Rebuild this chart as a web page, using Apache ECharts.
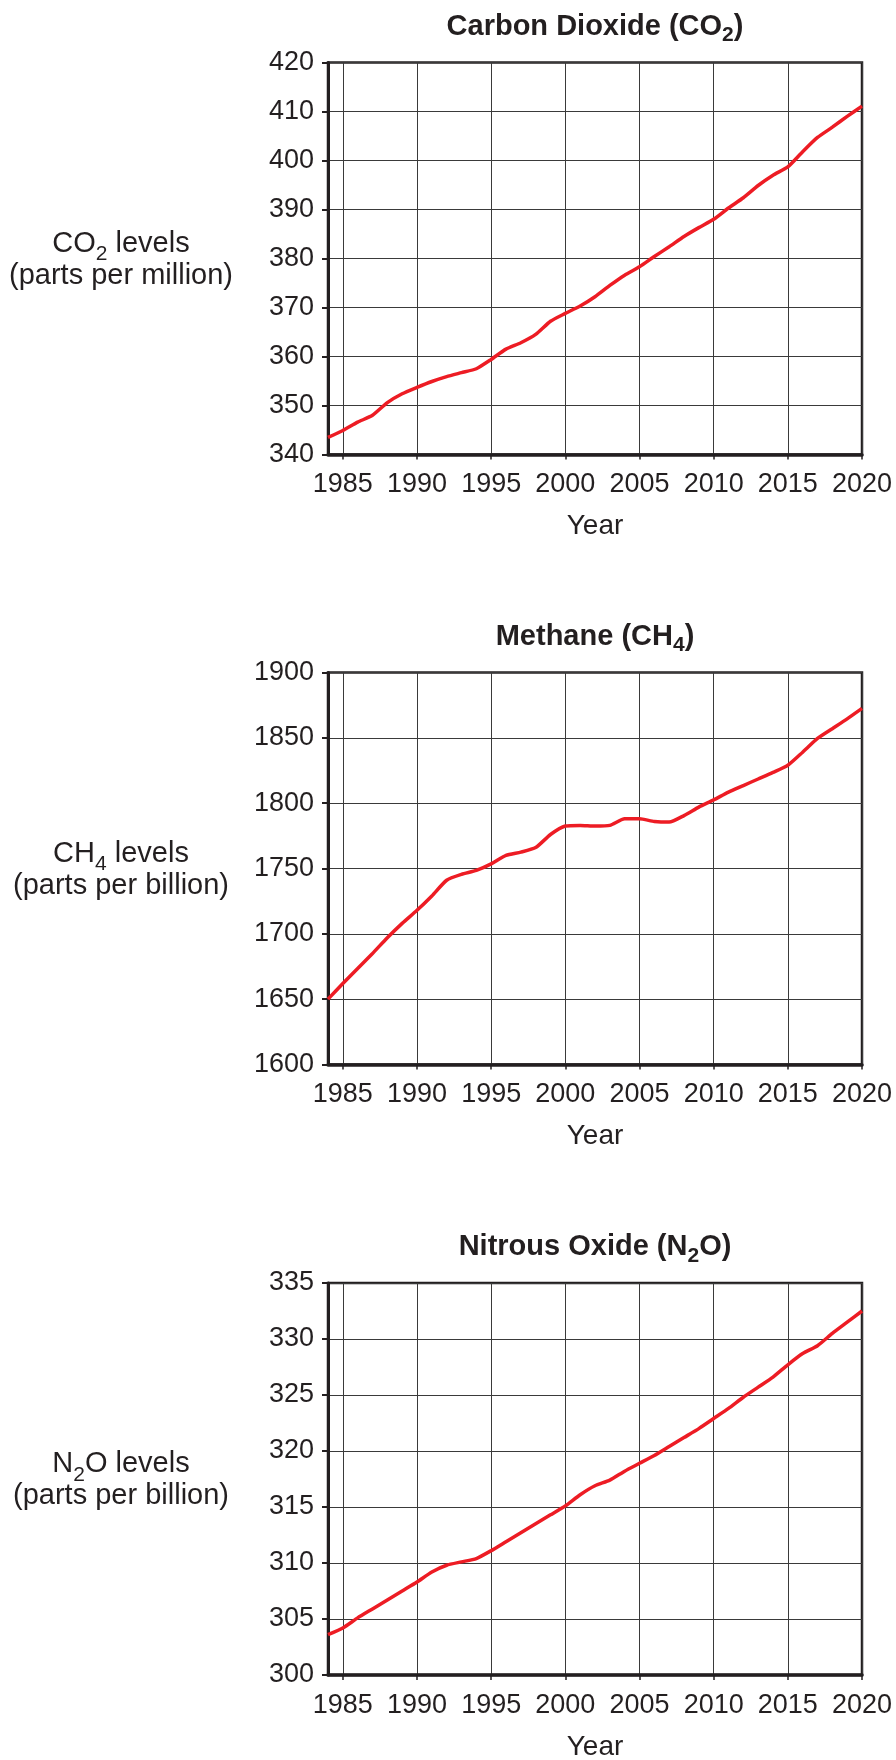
<!DOCTYPE html>
<html>
<head>
<meta charset="utf-8">
<script src="https://cdn.jsdelivr.net/npm/echarts@6/dist/echarts.min.js"></script>
<style>
html,body{margin:0;padding:0;background:#fff;}
#main{width:896px;height:1760px;}
</style>
</head>
<body>
<div id="main"></div>
<script>
const years = [1984,1985,1986,1987,1988,1989,1990,1991,1992,1993,1994,1995,1996,1997,1998,1999,2000,2001,2002,2003,2004,2005,2006,2007,2008,2009,2010,2011,2012,2013,2014,2015,2016,2017,2018,2019,2020];
const xTickYears = [1985,1990,1995,2000,2005,2010,2015,2020];

const co2Values = [343.5,344.9,346.6,348.0,350.6,352.4,353.7,354.9,355.9,356.7,357.5,359.4,361.5,362.8,364.5,367.2,368.8,370.3,372.2,374.5,376.6,378.3,380.4,382.4,384.5,386.3,388.0,390.3,392.4,394.9,397.0,398.7,401.8,404.7,406.8,409.0,411.1];
const ch4Values = [1650,1662,1673.5,1685,1697,1708,1718,1729,1741,1745.5,1748.5,1753.5,1760,1762.5,1766,1776,1782.5,1783,1782.5,1783,1788,1788,1786,1785.5,1790.5,1797,1802.5,1808.5,1813.5,1818.5,1823.5,1829,1839,1849.5,1857,1864.5,1872.5];
const n2oValues = [303.6,304.2,305.1,305.9,306.7,307.5,308.3,309.2,309.8,310.1,310.4,311.1,311.9,312.7,313.5,314.3,315.1,316.1,316.9,317.4,318.2,318.9,319.6,320.4,321.2,322.0,322.9,323.8,324.8,325.7,326.6,327.7,328.7,329.4,330.5,331.5,332.5];

const panels = [
  {title: 'Carbon Dioxide (CO{sb|2})', name1: 'CO{s|2} levels', name2: '(parts per million)', values: co2Values, yMin: 340, yMax: 420, yStep: 10, top: 62.5},
  {title: 'Methane (CH{sb|4})', name1: 'CH{s|4} levels', name2: '(parts per billion)', values: ch4Values, yMin: 1600, yMax: 1900, yStep: 50, top: 672.5},
  {title: 'Nitrous Oxide (N{sb|2}O)', name1: 'N{s|2}O levels', name2: '(parts per billion)', values: n2oValues, yMin: 300, yMax: 335, yStep: 5, top: 1283}
];

const FONT = "'Liberation Sans', Arial, Helvetica, sans-serif";
const TXT = '#231f20';
const PLOT_LEFT = 328, PLOT_W = 534, PLOT_H = 392;

const chart = echarts.init(document.getElementById('main'), null, {renderer: 'canvas'});

const grid = [], xAxis = [], yAxis = [], series = [], graphic = [];
panels.forEach((p, i) => {
  grid.push({left: PLOT_LEFT, top: p.top, width: PLOT_W, height: PLOT_H, show: true, borderColor: '#231f20', borderWidth: 2.5, backgroundColor: 'transparent'});
  xAxis.push({
    type: 'value', gridIndex: i, min: 1984, max: 2020,
    axisLine: {show: true, onZero: false, lineStyle: {color: '#231f20', width: 3.5}},
    axisTick: {show: true, length: 5, customValues: xTickYears, lineStyle: {color: '#231f20', width: 1.5}},
    axisLabel: {customValues: xTickYears, color: TXT, fontSize: 27, fontFamily: FONT, margin: 17, formatter: v => String(v)},
    splitLine: {show: true, lineStyle: {color: '#3a3a3a', width: 1}}
  });
  yAxis.push({
    type: 'value', gridIndex: i, min: p.yMin, max: p.yMax, interval: p.yStep,
    axisLine: {show: true, onZero: false, lineStyle: {color: '#231f20', width: 3}},
    axisTick: {show: true, length: 6, lineStyle: {color: '#231f20', width: 2}},
    axisLabel: {color: TXT, fontSize: 27, fontFamily: FONT, margin: 14, formatter: v => String(v)},
    splitLine: {show: true, lineStyle: {color: '#3a3a3a', width: 1}}
  });
  series.push({
    type: 'line', xAxisIndex: i, yAxisIndex: i,
    data: years.map((y, k) => [y, p.values[k]]),
    showSymbol: false, symbol: 'none', smooth: 0.2,
    lineStyle: {color: '#ed1c24', width: 3.5},
    z: 5
  });
  const cx = PLOT_LEFT + PLOT_W / 2;
  const cy = p.top + PLOT_H / 2;
  graphic.push({
    type: 'text', x: cx, y: p.top - 36,
    style: {
      text: p.title, fontSize: 29, fontWeight: 'bold', fontFamily: FONT, fill: TXT,
      align: 'center', verticalAlign: 'middle',
      rich: {sb: {fontSize: 21, fontWeight: 'bold', fontFamily: FONT, fill: TXT, padding: [18, 0, 0, 0]}}
    }
  });
  graphic.push({
    type: 'text', x: 121, y: cy - 15,
    style: {
      text: p.name1, fontSize: 29, fontFamily: FONT, fill: TXT,
      align: 'center', verticalAlign: 'middle',
      rich: {s: {fontSize: 21, fontFamily: FONT, fill: TXT, padding: [22, 0, 0, 0]}}
    }
  });
  graphic.push({
    type: 'text', x: 121, y: cy + 17,
    style: {text: p.name2, fontSize: 29, fontFamily: FONT, fill: TXT, align: 'center', verticalAlign: 'middle'}
  });
  graphic.push({
    type: 'text', x: cx, y: p.top + PLOT_H + 72,
    style: {text: 'Year', fontSize: 28, fontFamily: FONT, fill: TXT, align: 'center', verticalAlign: 'middle'}
  });
});

chart.setOption({
  animation: false,
  backgroundColor: '#fff',
  grid, xAxis, yAxis, series, graphic
});
</script>
</body>
</html>
